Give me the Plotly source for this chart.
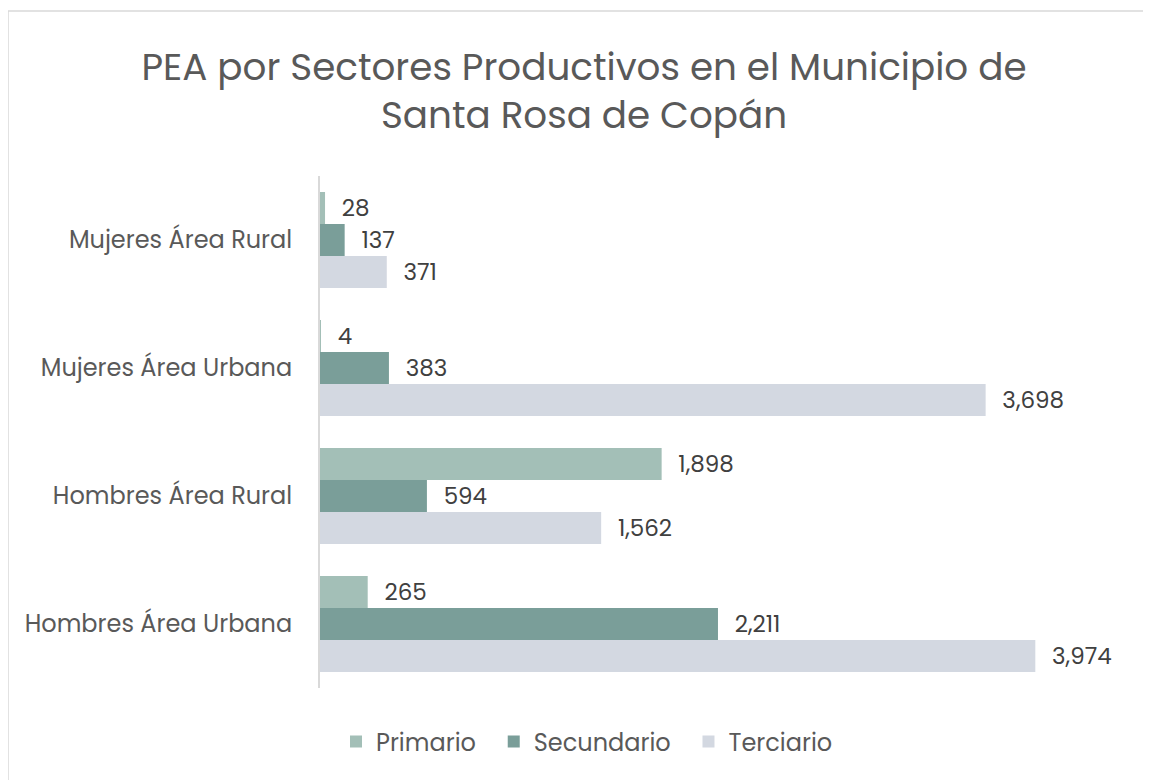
import plotly.graph_objects as go

# Categories (bottom to top as plotly draws them)
categorias = ["Hombres Área Urbana", "Hombres Área Rural",
              "Mujeres Área Urbana", "Mujeres Área Rural"]

# PEA by sector
primario = [265, 1898, 4, 28]
secundario = [2211, 594, 383, 137]
terciario = [3974, 1562, 3698, 371]

colores = {"Primario": "#A3BFB7", "Secundario": "#7A9E99", "Terciario": "#D3D8E1"}

fig = go.Figure()
# first trace sits at the bottom of each group, so add Terciario first
# (trailing nbsp only widens the gap between legend items)
for nombre, valores, pad in [("Terciario", terciario, ""),
                             ("Secundario", secundario, "\u00a0\u00a0"),
                             ("Primario", primario, "\u00a0\u00a0")]:
    fig.add_trace(go.Bar(
        y=categorias, x=valores, name=nombre + pad, orientation="h",
        marker=dict(color=colores[nombre], line=dict(width=0)),
        text=valores, texttemplate="\u00a0\u00a0\u200a%{x:,}", textposition="outside",
        textfont=dict(size=23, color="#404040"), cliponaxis=False,
    ))

# page body adds an 8px offset; plot area on screen: x 320..1120, y 176..688
OFF = 8
L, T = 320 - OFF, 176 - OFF
W, H = 800, 512
R, B = 1151 - L - W, 780 - T - H

fig.update_layout(
    width=1151, height=780,
    font=dict(family="Poppins, Inter, sans-serif", color="#595959"),
    paper_bgcolor="white", plot_bgcolor="white",
    margin=dict(l=L, r=R, t=T, b=B, autoexpand=False),
    title=dict(text="PEA por Sectores Productivos en el Municipio de<br>Santa Rosa de Copán",
               x=(584 - OFF) / 1151, xanchor="center", y=1 - (80 - OFF) / 780, yanchor="middle",
               font=dict(size=37.3, color="#595959")),
    barmode="group", bargap=0.25, bargroupgap=0,
    showlegend=True,
    legend=dict(orientation="h", traceorder="reversed", x=(587 - 320) / W,
                xanchor="center", y=-(742 - 688) / H, yanchor="middle",
                font=dict(size=24, color="#595959"), itemwidth=30),
    xaxis=dict(range=[0, 800 / 0.18], visible=False, fixedrange=True),
    yaxis=dict(showline=True, linecolor="#D9D9D9", linewidth=2, ticks="",
               tickfont=dict(size=24, color="#595959"), ticklabelstandoff=21,
               showgrid=False, zeroline=False, automargin=False),
    shapes=[dict(type="rect", xref="paper", yref="paper",
                 x0=(8 - 320) / W, x1=(1200 - 320) / W,
                 y0=1 - (800 - 176) / H, y1=1 + (176 - 11) / H,
                 line=dict(color="#D9D9D9", width=1.5), fillcolor="rgba(0,0,0,0)", layer="below")],
)

fig.write_html("out.html")
